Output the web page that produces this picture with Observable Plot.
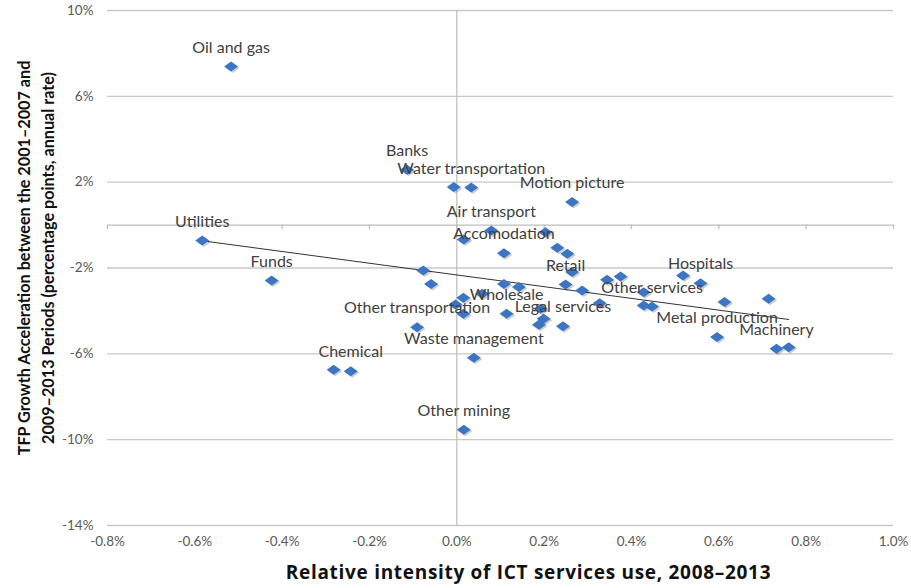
<!DOCTYPE html>
<html><head><meta charset="utf-8">
<script src="https://cdn.jsdelivr.net/npm/d3@7"></script>
<script src="https://cdn.jsdelivr.net/npm/@observablehq/plot@0.6"></script>
<style>html,body{margin:0;padding:0;background:#fff}#chart svg{display:block}</style>
</head><body><div id="chart"></div>
<script>
// Industry labels ("" = unlabeled point)
const industries = [
  "Oil and gas", "Banks", "", "Water transportation", "Motion picture",
  "Air transport", "", "", "Accomodation", "", "",
  "", "", "", "Utilities", "Funds", "", "Chemical",
  "Waste management", "Other transportation", "", "", "",
  "", "", "", "Wholesale", "", "", "", "Legal services",
  "Retail", "", "", "", "", "", "", "Other services",
  "", "Hospitals", "", "", "Metal production", "Machinery", "", "Other mining"
];
// Relative intensity of ICT services use, 2008–2013 (%)
const ictIntensity = [
  -0.517, -0.114, -0.007, 0.033, 0.264,
  0.079, 0.203, 0.016, 0.108, 0.230, 0.253,
  0.264, -0.077, -0.059, -0.583, -0.424, -0.282, -0.243,
  0.039, -0.091, 0.015, -0.003, 0.015,
  0.058, 0.108, 0.142, 0.114, 0.192, 0.199, 0.188, 0.243,
  0.249, 0.287, 0.344, 0.375, 0.327, 0.428, 0.428, 0.447,
  0.518, 0.558, 0.613, 0.714, 0.596, 0.732, 0.760, 0.016
];
// TFP growth acceleration (percentage points)
const tfpAcceleration = [
  7.39, 2.58, 1.77, 1.75, 1.07,
  -0.25, -0.33, -0.67, -1.31, -1.06, -1.34,
  -2.19, -2.12, -2.74, -0.72, -2.58, -6.74, -6.81,
  -6.18, -4.76, -3.39, -3.70, -4.13,
  -3.20, -2.74, -2.89, -4.13, -3.90, -4.37, -4.65, -4.71,
  -2.77, -3.05, -2.55, -2.40, -3.64, -3.13, -3.75, -3.79,
  -2.35, -2.71, -3.59, -3.43, -5.22, -5.76, -5.69, -9.54
];
const xTicks = [-0.8, -0.6, -0.4, -0.2, 0.0, 0.2, 0.4, 0.6, 0.8, 1.0];
const yTicks = [-14, -10, -6, -2, 2, 6, 10];
const xTitle = "Relative intensity of ICT services use, 2008–2013";
const yTitle = "TFP Growth Acceleration between the 2001–2007 and\n2009–2013 Periods (percentage points, annual rate)";

const data = industries.map((name, i) => ({name, x: ictIntensity[i], y: tfpAcceleration[i]}));

const diamond = {
  draw(ctx) {
    const w = 7, h = 5;
    ctx.moveTo(0, -h); ctx.lineTo(w, 0); ctx.lineTo(0, h); ctx.lineTo(-w, 0); ctx.closePath();
  }
};

const chart = Plot.plot({
  width: 911, height: 588,
  marginLeft: 107, marginRight: 18, marginTop: 10, marginBottom: 63,
  x: {domain: [-0.8, 1.0]},
  y: {domain: [-14, 10]},
  style: {fontFamily: "Lato, 'Liberation Sans', sans-serif", background: "#fff"},
  marks: [
    Plot.ruleY(yTicks, {stroke: "#c8c8c8", strokeWidth: 1.4}),
    Plot.ruleX([0], {stroke: "#c0c0c0", strokeWidth: 1.3}),
    Plot.ruleY([0], {stroke: "#bdbdbd", strokeWidth: 1.3}),
    Plot.ruleX(xTicks, {y1: 0, y2: -0.2, stroke: "#bdbdbd", strokeWidth: 1.3}),
    Plot.axisX({ticks: xTicks, tickSize: 0, tickPadding: 11, tickFormat: d => d.toFixed(1) + "%", fontSize: 13.5, fill: "#595959", label: null}),
    Plot.axisY({ticks: yTicks, tickSize: 0, tickPadding: 14, tickFormat: d => d + "%", fontSize: 13.5, fill: "#595959", label: null}),
    Plot.linearRegressionY(data, {x: "x", y: "y", stroke: "#333", strokeWidth: 1, ci: 0}),
    Plot.dot(data, {x: "x", y: "y", symbol: diamond, fill: "#000", fillOpacity: 0.2, dx: 1.5, dy: 1.5}),
    Plot.dot(data, {x: "x", y: "y", symbol: diamond, fill: "#3b75c3"}),
    Plot.text(data.filter(d => d.name), {x: "x", y: "y", text: "name", dy: -19, fontSize: 16, fill: "#404040"}),
    Plot.text([xTitle], {text: d => d, frameAnchor: "bottom", dy: 53, dx: 28, fontFamily: "'Open Sans', sans-serif", fontWeight: "bold", fontSize: 19, fill: "#111"}),
    Plot.text([yTitle], {text: d => d, frameAnchor: "left", textAnchor: "middle", rotate: -90, dx: -73, dy: -10, fontWeight: "bold", fontSize: 16.2, lineHeight: 1.48, fill: "#111"})
  ]
});
d3.select(chart).selectAll("text")
  .filter(function () { return this.textContent === xTitle; })
  .attr("letter-spacing", "0.7px");
document.getElementById("chart").appendChild(chart);
</script>
</body></html>
